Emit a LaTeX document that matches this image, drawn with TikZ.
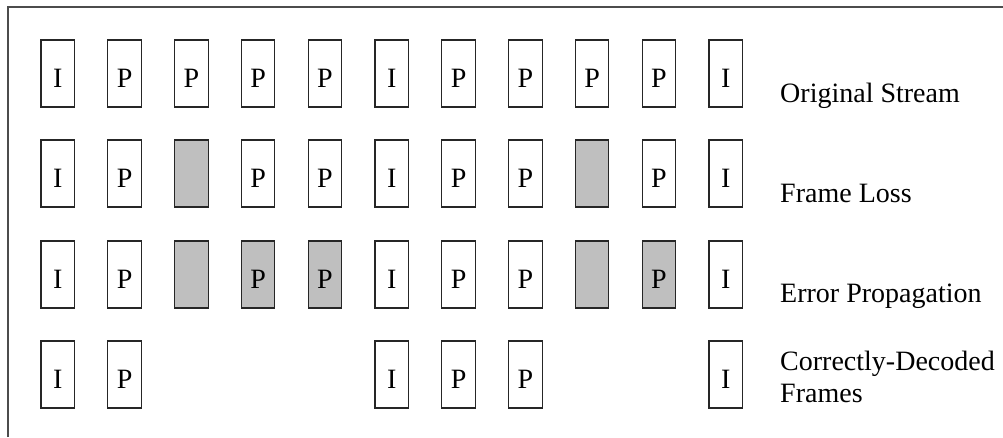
\documentclass[tikz,border=0pt]{standalone}
\usepackage{fontspec}
\setmainfont{Liberation Serif}
\begin{document}
\begin{tikzpicture}[x=1pt,y=-1pt,
  frame/.style={draw=black!85, line width=1.1pt, fill=white, minimum width=33.5pt, minimum height=67pt,
    inner sep=0pt, text height=27pt, text depth=0pt, font=\fontsize{28}{30}\selectfont},
  lost/.style={frame, fill=black!25},
  lbl/.style={anchor=base west, inner sep=0pt, font=\fontsize{28}{31}\selectfont},
  border/.style={draw=black!70, line width=1.5pt}]
\useasboundingbox (0,0) rectangle (1003,437);
% border
\coordinate (bl) at (8,437);
\coordinate (tl) at (8,7);
\coordinate (tr) at (1003,7);
\draw[border] (bl) -- (tl) -- (tr);
% row 1
\foreach \t [count=\i from 0] in {I,P,P,P,P,I,P,P,P,P,I}
  \node[frame] (a\i) at (57.75+\i*66.8,73.5) {\t};
% row 2
\foreach \t/\s [count=\i from 0] in {I/frame,P/frame,/lost,P/frame,P/frame,I/frame,P/frame,P/frame,/lost,P/frame,I/frame}
  \node[\s] (b\i) at (57.75+\i*66.8,173.5) {\t};
% row 3
\foreach \t/\s [count=\i from 0] in {I/frame,P/frame,/lost,P/lost,P/lost,I/frame,P/frame,P/frame,/lost,P/lost,I/frame}
  \node[\s] (c\i) at (57.75+\i*66.8,274.5) {\t};
% row 4
\foreach \t/\i in {I/0,P/1,I/5,P/6,P/7,I/10}
  \node[frame] (d\i) at (57.75+\i*66.8,374.5) {\t};
% labels
\node[lbl] (l1) at (780,102) {Original Stream};
\node[lbl] (l2) at (780,202) {Frame Loss};
\node[lbl] (l3) at (780,302) {Error Propagation};
\node[lbl] (l4) at (780,370) {Correctly-Decoded};
\node[lbl] (l5) at (780,402) {Frames};
\end{tikzpicture}
\end{document}
